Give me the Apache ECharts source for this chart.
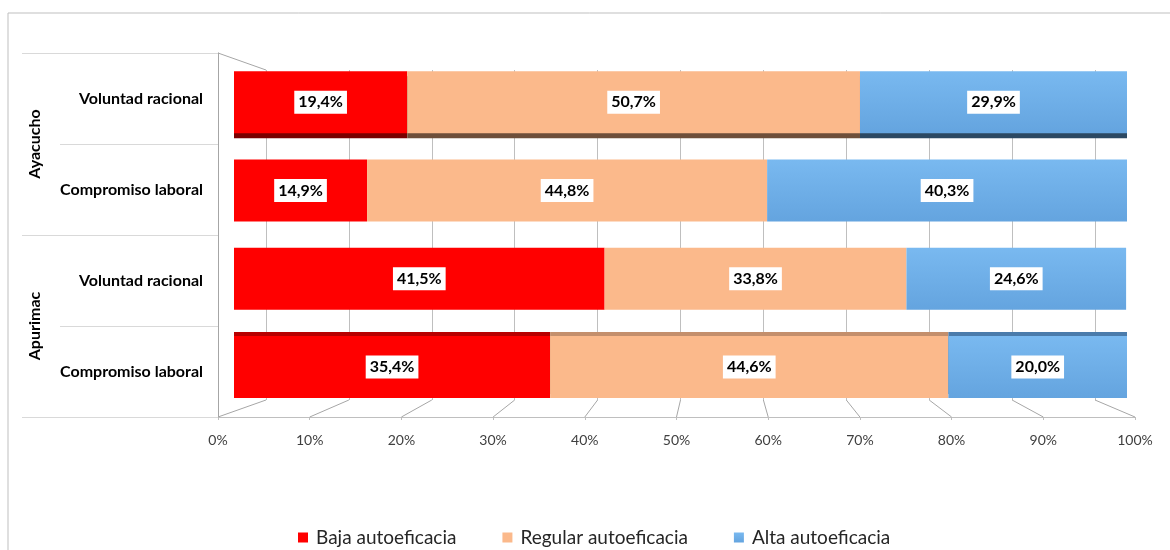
<!DOCTYPE html>
<html>
<head>
<meta charset="utf-8">
<script src="https://cdn.jsdelivr.net/npm/echarts@6/dist/echarts.min.js"></script>
<style>
  html, body { margin: 0; padding: 0; background: #fff; }
  #chart { width: 1170px; height: 550px; }
</style>
</head>
<body>
<div id="chart"></div>
<script>
// data
const groups = ['Ayacucho', 'Apurimac'];
const dimensions = ['Voluntad racional', 'Compromiso laboral', 'Voluntad racional', 'Compromiso laboral'];
const baja = [19.4, 14.9, 41.5, 35.4];
const regular = [50.7, 44.8, 33.8, 44.6];
const alta = [29.9, 40.3, 24.6, 20.0];
const percentTicks = [0, 10, 20, 30, 40, 50, 60, 70, 80, 90, 100];

// fake 3d edge per row: dark bottom edge on the first row, top face on the last one
const rowEdgeOffset = [5, 0, 0, -4];

const FONT = 'Lato, "Open Sans", sans-serif';

const chart = echarts.init(document.getElementById('chart'));

function pct(v) {
    return v.toFixed(1).replace('.', ',') + '%';
}

function barSeries(name, values, color, bottomEdge, topFace) {
    return {
        name: name,
        type: 'bar',
        stack: 'total',
        xAxisIndex: 0,
        yAxisIndex: 0,
        barWidth: 62,
        itemStyle: { color: color },
        label: {
            show: true,
            position: 'inside',
            formatter: p => pct(p.value),
            color: '#000',
            fontFamily: FONT,
            fontWeight: 'bold',
            fontSize: 16,
            backgroundColor: '#fff',
            padding: [4, 4, 3, 4]
        },
        emphasis: { disabled: true },
        data: values.map((v, i) => {
            const off = rowEdgeOffset[i];
            if (!off) return v;
            return {
                value: v,
                itemStyle: { shadowColor: off > 0 ? bottomEdge : topFace, shadowOffsetY: off, shadowBlur: 0 }
            };
        })
    };
}

const blue = new echarts.graphic.LinearGradient(0, 0, 0, 1, [
    { offset: 0, color: '#79b9f0' },
    { offset: 1, color: '#64a4df' }
]);

chart.setOption({
    animation: false,
    graphic: [
        { type: 'rect', shape: { x: 8, y: 13, width: 1175, height: 560 }, style: { fill: null, stroke: '#bfbfbf', lineWidth: 1 }, silent: true },
        { type: 'line', shape: { x1: 218, y1: 53, x2: 266, y2: 70 }, style: { stroke: '#a6a6a6', lineWidth: 1 }, silent: true }
    ],
    legend: {
        bottom: 3,
        left: 298,
        padding: 0,
        itemWidth: 10,
        itemHeight: 10,
        itemGap: 46,
        icon: 'rect',
        textStyle: { fontFamily: FONT, fontSize: 19, color: '#262626', padding: [0, 0, 0, 3] },
        data: ['Baja autoeficacia', 'Regular autoeficacia', 'Alta autoeficacia']
    },
    grid: [
        // bars
        { left: 234, right: 43, top: 58, bottom: 139 },
        // bottom axis + category labels
        { left: 218, right: 35, top: 53, bottom: 133 },
        // back wall
        { left: 266, right: 75, top: 70, bottom: 150 }
    ],
    xAxis: [
        { gridIndex: 0, type: 'value', min: 0, max: 100, show: false },
        {
            gridIndex: 1, type: 'value', min: 0, max: 100, interval: 10,
            axisLine: { show: true, lineStyle: { color: '#bfbfbf' } },
            axisTick: { show: true, length: 3, lineStyle: { color: '#bfbfbf' } },
            splitLine: { show: false },
            axisLabel: { formatter: '{value}%', color: '#404040', fontFamily: FONT, fontSize: 14, margin: 16 }
        },
        {
            gridIndex: 2, type: 'value', min: 0, max: 100, interval: 10,
            axisLine: { show: false }, axisTick: { show: false }, axisLabel: { show: false },
            splitLine: { show: true, lineStyle: { color: '#bfbfbf' } }
        }
    ],
    yAxis: [
        { gridIndex: 0, type: 'category', inverse: true, data: dimensions, show: false },
        {
            gridIndex: 1, type: 'category', inverse: true, data: dimensions, position: 'left',
            axisLine: { show: true, lineStyle: { color: '#a6a6a6' } },
            axisTick: { show: true, length: 158, lineStyle: { color: '#d9d9d9' } },
            axisLabel: { color: '#000', fontFamily: FONT, fontWeight: 'bold', fontSize: 16, margin: 15 }
        },
        {
            gridIndex: 1, type: 'category', inverse: true, data: groups, position: 'left', offset: 0,
            axisLine: { show: false },
            axisTick: { show: true, length: 196, lineStyle: { color: '#d9d9d9' } },
            axisLabel: { rotate: 90, color: '#000', fontFamily: FONT, fontWeight: 'bold', fontSize: 16, margin: 175 }
        },
        { gridIndex: 2, type: 'category', data: ['a'], show: false }
    ],
    series: [
        barSeries('Baja autoeficacia', baja, '#ff0000', '#7a0000', '#b80000'),
        barSeries('Regular autoeficacia', regular, '#fbb98b', '#6e4f3a', '#c48f6c'),
        barSeries('Alta autoeficacia', alta, blue, '#2b4862', '#4a7bab'),
        {
            // floor depth lines from the front axis ticks to the back wall gridlines
            type: 'custom',
            xAxisIndex: 2,
            yAxisIndex: 3,
            silent: true,
            data: percentTicks.map(v => [v]),
            renderItem: function (params, api) {
                const v = api.value(0);
                const cs = params.coordSys;
                const back = api.coord([v, 'a']);
                const frontX = chart.convertToPixel({ xAxisIndex: 1 }, v);
                return {
                    type: 'line',
                    shape: { x1: frontX, y1: 417, x2: back[0], y2: cs.y + cs.height },
                    style: { stroke: '#a6a6a6', lineWidth: 1 }
                };
            }
        }
    ]
});
</script>
</body>
</html>
